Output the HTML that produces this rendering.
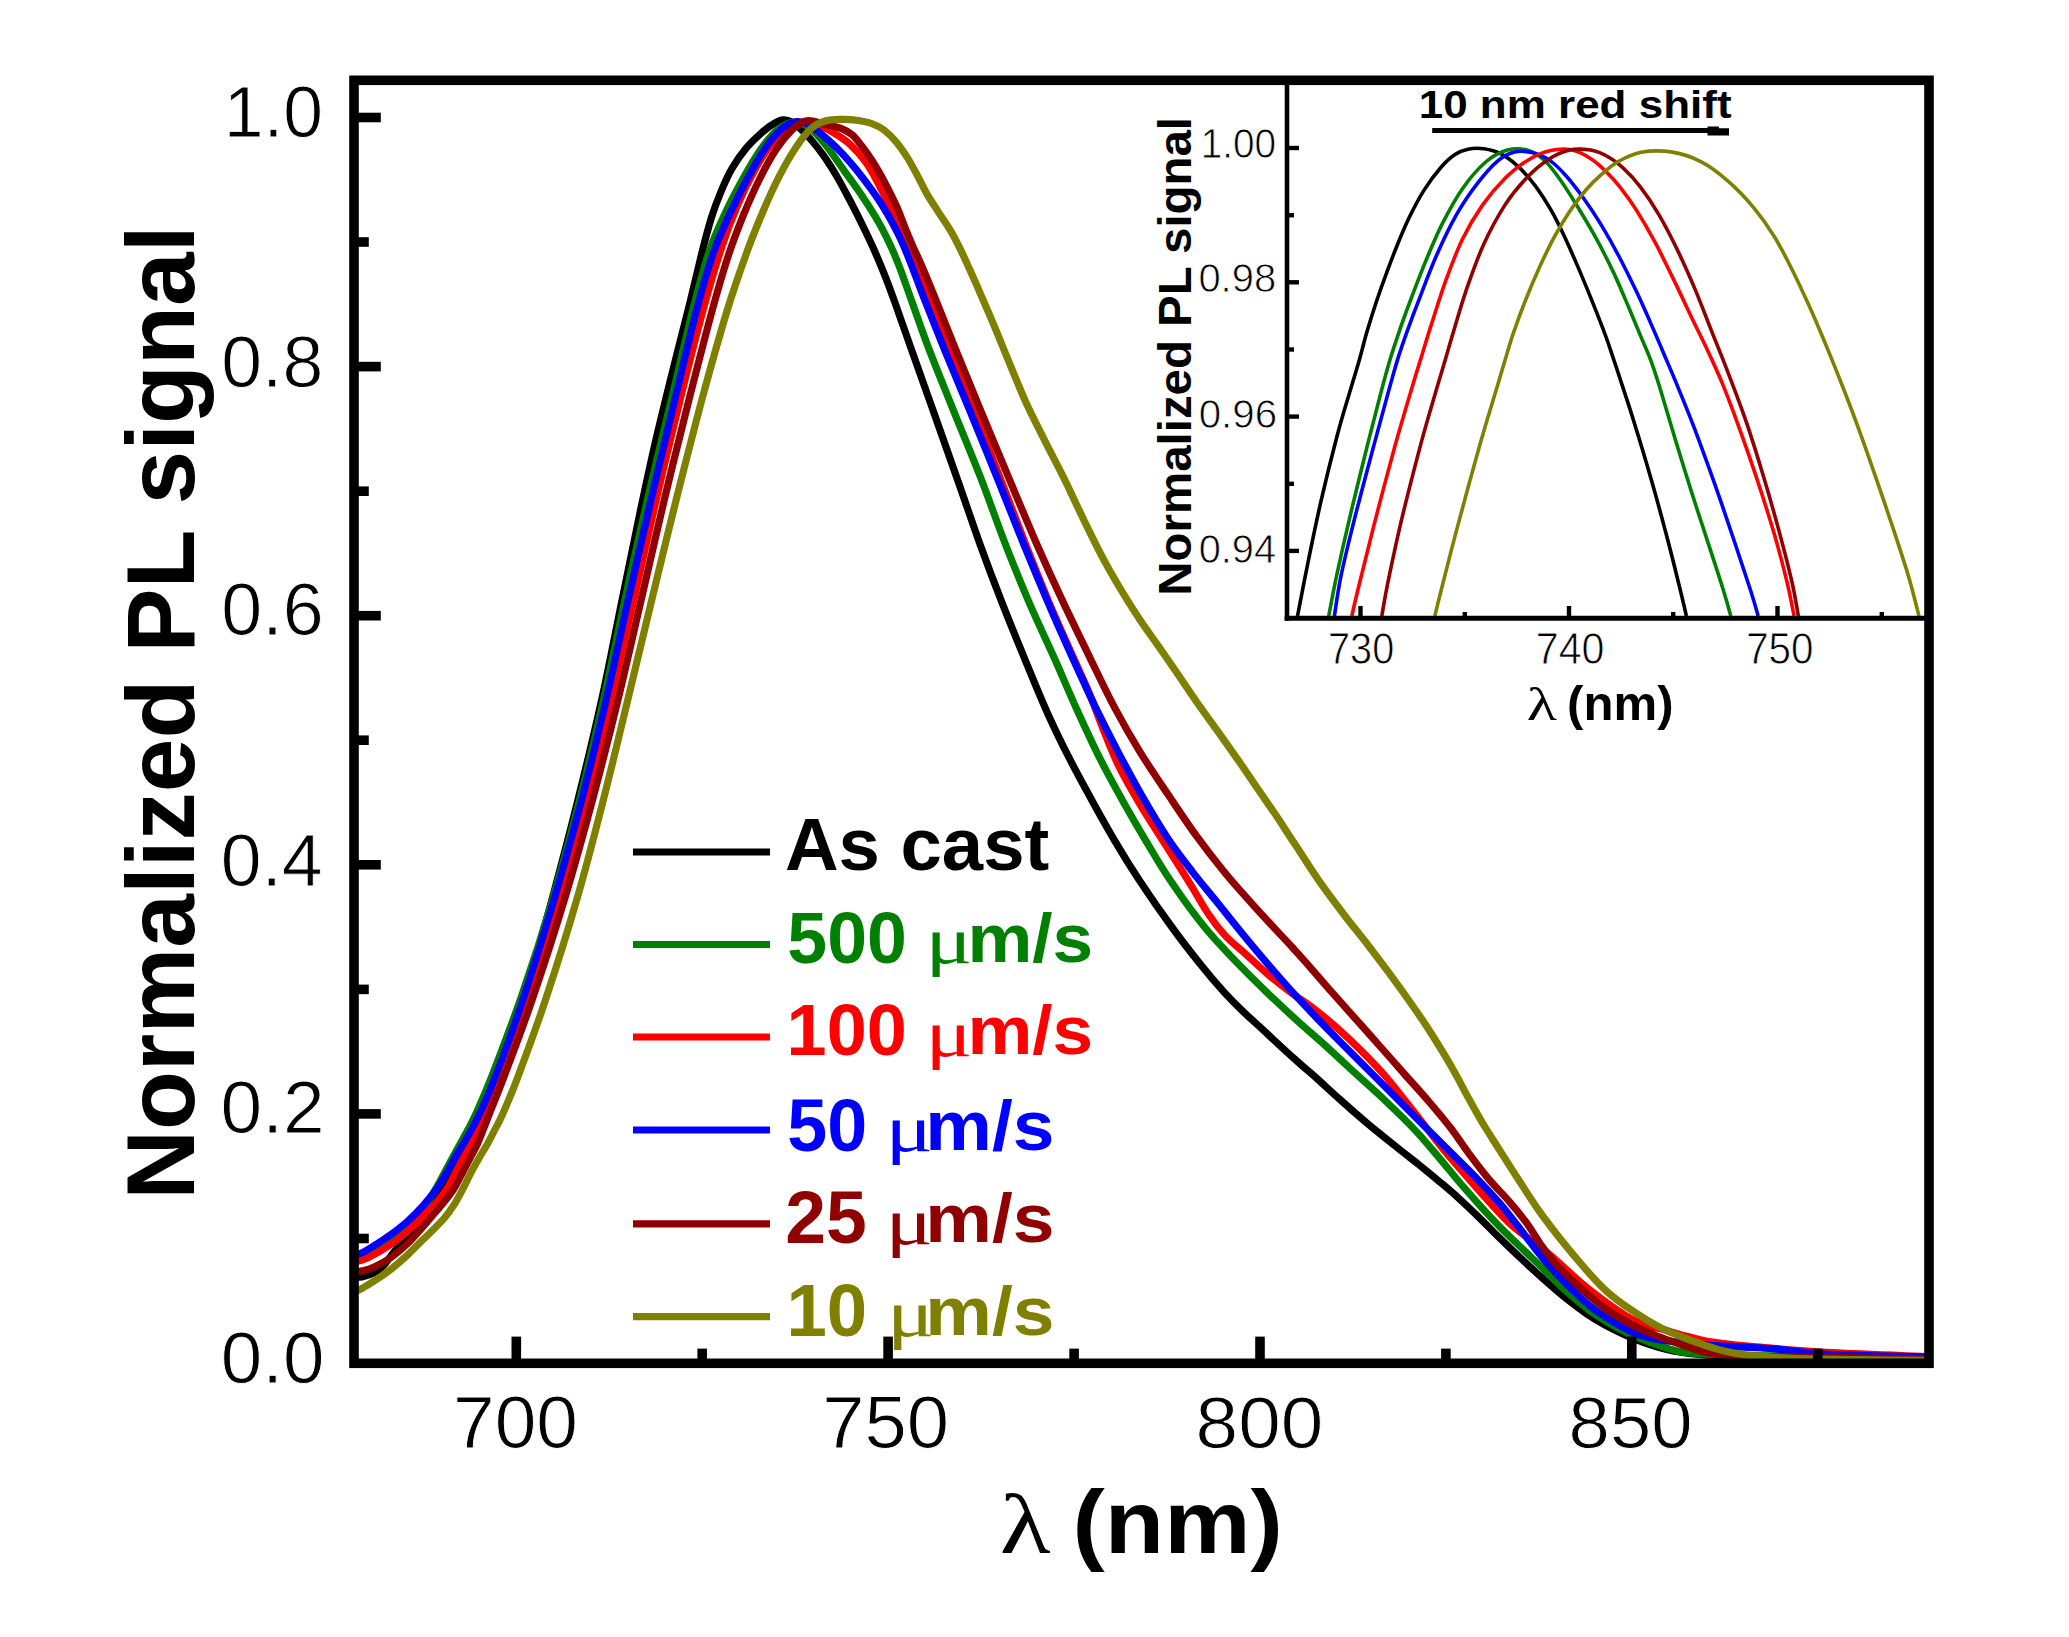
<!DOCTYPE html>
<html><head><meta charset="utf-8"><title>Normalized PL signal</title>
<style>html,body{margin:0;padding:0;background:#fff;}svg{display:block;}</style></head>
<body>
<svg width="2069" height="1637" viewBox="0 0 2069 1637">
<rect x="0" y="0" width="2069" height="1637" fill="#fff"/>
<defs><clipPath id="pc"><rect x="354" y="80" width="1575" height="1283.5"/></clipPath></defs>
<g clip-path="url(#pc)" fill="none" stroke-width="7.2" stroke-linejoin="round" stroke-linecap="butt">
<path d="M354.0,1277.5 C355.3,1277.4 359.2,1277.4 361.9,1276.9 C364.6,1276.4 367.4,1275.6 370.2,1274.5 C373.0,1273.4 375.9,1271.9 378.5,1270.0 C381.1,1268.1 383.4,1265.8 385.5,1263.4 C387.6,1261.0 389.3,1258.1 391.2,1255.5 C393.2,1252.9 395.1,1250.6 397.2,1247.9 C399.4,1245.2 401.6,1242.9 404.2,1239.5 C406.9,1236.2 409.7,1232.2 413.0,1227.9 C416.3,1223.6 420.3,1218.4 424.2,1213.5 C428.2,1208.6 432.7,1203.6 436.5,1198.8 C440.3,1193.9 443.9,1189.0 447.0,1184.2 C450.1,1179.5 452.5,1174.8 455.0,1170.0 C457.5,1165.2 459.8,1160.5 462.2,1155.5 C464.7,1150.5 467.3,1145.8 469.8,1140.0 C472.3,1134.2 474.3,1129.2 477.3,1121.0 C480.3,1112.8 483.3,1103.0 487.7,1090.5 C492.1,1078.0 498.0,1061.8 503.7,1046.2 C509.4,1030.8 516.0,1013.7 521.8,997.5 C527.5,981.3 532.4,967.7 538.0,949.2 C543.6,930.8 548.7,912.0 555.4,886.9 C562.1,861.9 570.5,830.2 578.2,798.9 C586.0,767.5 594.5,732.2 601.9,698.8 C609.2,665.5 615.9,630.1 622.3,598.9 C628.7,567.6 634.8,537.3 640.3,511.1 C645.9,484.9 650.2,464.6 655.5,441.6 C660.8,418.7 666.4,396.1 672.1,373.3 C677.7,350.5 684.4,325.1 689.4,305.0 C694.4,284.8 698.4,266.9 702.0,252.3 C705.7,237.8 708.3,227.7 711.4,217.6 C714.6,207.5 717.5,200.1 720.9,191.9 C724.3,183.8 727.6,176.0 731.9,168.7 C736.1,161.4 741.3,154.0 746.4,147.9 C751.4,141.8 757.5,136.4 762.2,132.2 C766.9,128.1 771.1,125.2 774.7,123.1 C778.3,121.1 780.8,120.1 783.6,119.9 C786.5,119.7 788.9,120.5 791.8,122.0 C794.7,123.5 797.5,126.0 800.8,129.0 C804.0,132.0 807.4,135.5 811.3,140.0 C815.1,144.5 819.5,149.9 823.8,155.9 C828.0,161.9 832.4,169.0 836.6,176.0 C840.8,183.1 844.7,190.6 848.8,198.3 C852.9,206.0 856.9,213.9 861.0,222.2 C865.1,230.5 869.5,239.7 873.3,248.1 C877.1,256.6 880.2,263.8 883.8,272.8 C887.4,281.7 890.2,289.3 894.8,302.1 C899.4,314.9 905.1,331.5 911.5,349.6 C917.9,367.7 925.6,389.4 933.2,410.8 C940.8,432.3 949.2,456.1 957.0,478.3 C964.9,500.5 972.5,523.4 980.0,544.2 C987.5,564.9 994.6,583.7 1002.1,602.9 C1009.6,622.1 1017.4,641.1 1024.9,659.3 C1032.4,677.5 1039.5,695.3 1047.0,711.9 C1054.5,728.6 1062.1,744.1 1069.8,759.2 C1077.6,774.4 1085.8,789.1 1093.2,802.7 C1100.7,816.3 1107.0,827.7 1114.8,840.8 C1122.5,853.9 1130.5,866.9 1140.0,881.2 C1149.5,895.6 1161.6,913.1 1171.8,927.0 C1181.9,941.0 1192.3,954.2 1201.0,965.0 C1209.6,975.8 1216.4,983.7 1223.6,991.6 C1230.7,999.4 1237.2,1005.9 1243.7,1012.1 C1250.1,1018.3 1256.0,1023.3 1262.0,1028.8 C1268.0,1034.3 1273.4,1039.7 1279.6,1045.3 C1285.7,1050.9 1292.2,1056.8 1298.6,1062.5 C1305.0,1068.2 1311.1,1073.3 1318.0,1079.5 C1324.9,1085.7 1331.7,1092.1 1340.0,1099.5 C1348.2,1106.9 1358.3,1115.8 1367.7,1123.8 C1377.2,1131.7 1388.0,1140.3 1396.8,1147.3 C1405.5,1154.3 1413.1,1160.1 1420.2,1165.8 C1427.2,1171.5 1432.7,1176.0 1439.2,1181.4 C1445.6,1186.8 1452.2,1192.3 1458.8,1198.3 C1465.5,1204.4 1472.3,1210.9 1479.2,1217.6 C1486.1,1224.3 1493.1,1231.7 1500.3,1238.7 C1507.5,1245.7 1515.1,1253.0 1522.3,1259.7 C1529.5,1266.4 1536.3,1272.7 1543.4,1279.0 C1550.5,1285.3 1557.7,1291.7 1564.9,1297.5 C1572.1,1303.2 1579.8,1309.1 1586.5,1313.7 C1593.2,1318.3 1599.0,1321.7 1605.2,1325.2 C1611.5,1328.6 1617.2,1331.4 1624.0,1334.5 C1630.8,1337.5 1638.1,1340.7 1646.0,1343.3 C1653.8,1346.0 1661.0,1348.5 1671.2,1350.5 C1681.5,1352.5 1688.2,1354.0 1707.5,1355.2 C1726.8,1356.5 1750.3,1357.1 1787.2,1357.8 C1824.2,1358.4 1905.4,1358.8 1929.0,1359.0" stroke="#000000"/>
<path d="M354.0,1259.0 C355.5,1258.5 359.6,1257.6 362.8,1256.2 C365.9,1254.9 369.6,1252.8 373.1,1250.8 C376.7,1248.7 380.4,1246.5 384.1,1244.0 C387.8,1241.5 391.5,1239.0 395.6,1235.8 C399.6,1232.5 404.3,1228.8 408.5,1224.8 C412.8,1220.7 417.3,1215.9 420.9,1211.5 C424.5,1207.1 427.3,1202.6 429.9,1198.5 C432.6,1194.4 434.5,1190.9 436.8,1187.0 C439.0,1183.1 441.0,1179.5 443.2,1175.2 C445.5,1171.0 447.9,1166.4 450.5,1161.5 C453.1,1156.6 456.1,1151.3 459.0,1146.0 C461.9,1140.7 465.0,1135.3 467.9,1129.8 C470.8,1124.2 472.4,1121.9 476.4,1112.8 C480.5,1103.6 484.8,1094.2 492.3,1075.0 C499.8,1055.8 511.1,1026.6 521.2,997.2 C531.3,967.9 543.0,931.7 552.8,898.7 C562.5,865.6 571.4,832.2 579.9,798.9 C588.4,765.5 596.2,732.2 603.8,698.8 C611.3,665.5 617.8,632.2 625.1,598.9 C632.4,565.5 639.8,532.4 647.6,498.9 C655.4,465.3 664.3,429.3 671.9,397.7 C679.4,366.2 686.7,333.9 692.9,309.7 C699.0,285.4 703.6,268.3 708.9,252.4 C714.2,236.4 719.1,226.2 724.8,214.0 C730.4,201.8 736.7,190.0 742.7,179.2 C748.7,168.5 754.9,157.7 760.7,149.4 C766.6,141.0 772.4,133.8 778.1,129.2 C783.7,124.8 789.2,122.6 794.5,122.4 C799.8,122.1 804.7,124.1 809.9,127.8 C815.0,131.6 820.0,137.9 825.7,145.0 C831.4,152.1 837.9,161.8 844.1,170.6 C850.3,179.3 857.3,188.7 863.1,197.5 C869.0,206.3 874.6,215.1 879.3,223.5 C884.0,231.8 887.9,239.9 891.4,247.6 C895.0,255.2 897.1,260.8 900.5,269.6 C903.8,278.5 906.8,287.5 911.5,300.5 C916.2,313.6 921.8,330.2 928.6,348.1 C935.4,365.9 943.8,386.3 952.4,407.8 C961.0,429.2 971.5,454.1 980.3,476.8 C989.1,499.5 997.2,523.1 1005.4,544.2 C1013.6,565.2 1021.2,584.0 1029.3,602.9 C1037.4,621.8 1046.3,640.1 1054.2,657.8 C1062.1,675.4 1069.0,692.2 1076.6,708.9 C1084.2,725.5 1091.7,742.1 1099.5,757.7 C1107.4,773.4 1116.1,788.9 1123.8,802.7 C1131.6,816.6 1138.1,827.7 1145.9,840.8 C1153.8,853.9 1160.9,866.7 1170.9,881.2 C1180.8,895.8 1193.5,913.6 1205.3,928.0 C1217.2,942.4 1230.9,956.4 1241.8,967.6 C1252.6,978.9 1261.2,986.9 1270.2,995.6 C1279.3,1004.2 1286.8,1011.3 1296.0,1019.6 C1305.1,1027.9 1315.0,1036.3 1325.0,1045.2 C1334.9,1054.2 1345.3,1064.0 1355.5,1073.4 C1365.7,1082.8 1376.2,1092.1 1386.1,1101.5 C1396.0,1110.9 1406.0,1120.5 1414.8,1129.9 C1423.7,1139.3 1431.5,1148.9 1439.2,1157.8 C1446.8,1166.8 1453.5,1175.3 1460.5,1183.5 C1467.5,1191.6 1474.3,1199.3 1481.1,1206.8 C1487.9,1214.3 1494.4,1221.2 1501.2,1228.2 C1508.1,1235.2 1515.1,1241.8 1522.3,1248.7 C1529.5,1255.7 1536.9,1262.6 1544.3,1269.8 C1551.7,1277.0 1559.2,1284.9 1566.7,1291.7 C1574.2,1298.4 1581.9,1305.0 1589.2,1310.3 C1596.4,1315.7 1603.7,1320.0 1610.3,1324.0 C1616.9,1327.9 1623.0,1330.9 1628.9,1333.8 C1634.8,1336.6 1639.9,1338.8 1645.8,1341.0 C1651.7,1343.3 1657.6,1345.4 1664.4,1347.3 C1671.2,1349.3 1673.1,1351.4 1686.4,1352.7 C1699.7,1354.1 1717.7,1355.0 1744.0,1355.5 C1770.2,1356.0 1813.1,1355.7 1844.0,1356.0 C1874.8,1356.2 1914.8,1356.8 1929.0,1357.0" stroke="#008000"/>
<path d="M354.0,1262.0 C355.5,1261.7 359.3,1261.3 362.8,1260.0 C366.2,1258.7 370.2,1256.7 374.8,1254.1 C379.5,1251.4 385.3,1248.1 390.8,1244.2 C396.3,1240.4 402.4,1235.5 407.8,1230.9 C413.2,1226.2 418.5,1220.9 423.2,1216.2 C428.0,1211.5 432.5,1207.2 436.5,1202.6 C440.4,1198.0 443.9,1193.4 447.0,1188.7 C450.1,1183.9 452.3,1178.9 454.9,1174.0 C457.5,1169.1 459.9,1164.2 462.5,1159.3 C465.2,1154.4 468.2,1149.6 470.8,1144.7 C473.3,1139.7 475.6,1134.8 477.7,1129.5 C479.8,1124.2 480.2,1122.0 483.5,1113.0 C486.8,1104.0 490.3,1094.7 497.4,1075.5 C504.5,1056.3 515.8,1027.2 526.0,997.7 C536.1,968.3 548.2,932.0 558.2,898.8 C568.3,865.7 577.2,832.2 586.0,798.9 C594.8,765.5 603.0,732.2 611.0,698.8 C619.0,665.5 626.4,632.2 634.0,598.9 C641.5,565.5 648.7,532.2 656.4,498.9 C664.1,465.5 672.6,430.1 680.3,398.9 C688.0,367.6 696.1,336.0 702.8,311.1 C709.6,286.1 715.2,266.9 721.0,249.3 C726.7,231.7 731.7,218.9 737.5,205.4 C743.3,191.9 749.7,179.0 755.8,168.1 C761.9,157.3 768.5,147.3 774.3,140.3 C780.0,133.3 785.3,129.2 790.3,126.2 C795.4,123.2 800.0,122.4 804.6,122.1 C809.2,121.9 813.3,123.1 817.9,124.8 C822.4,126.4 826.8,128.7 832.0,131.8 C837.1,134.9 843.2,138.3 848.8,143.3 C854.4,148.3 860.7,155.2 865.6,162.0 C870.6,168.8 874.8,177.2 878.5,184.0 C882.2,190.8 885.0,197.0 887.8,202.8 C890.6,208.7 892.9,213.4 895.2,219.0 C897.6,224.5 899.4,230.2 901.8,236.0 C904.1,241.8 906.6,248.0 909.2,254.0 C911.9,260.0 914.3,264.2 917.8,272.0 C921.2,279.8 924.7,287.8 930.0,300.8 C935.3,313.7 942.4,331.2 949.8,349.5 C957.1,367.8 965.8,389.3 974.2,410.8 C982.7,432.2 991.7,456.0 1000.2,478.2 C1008.8,500.5 1017.3,523.2 1025.5,544.0 C1033.7,564.8 1041.7,584.7 1049.2,602.8 C1056.8,620.8 1064.6,637.8 1071.1,652.5 C1077.6,667.2 1083.1,678.3 1088.3,690.9 C1093.6,703.4 1097.5,715.1 1102.5,727.6 C1107.6,740.1 1112.5,753.2 1118.7,765.9 C1124.9,778.6 1132.0,790.8 1139.7,803.8 C1147.4,816.8 1156.6,830.7 1164.9,843.9 C1173.2,857.0 1182.2,871.0 1189.5,882.8 C1196.8,894.5 1202.5,905.4 1208.5,914.2 C1214.4,923.0 1219.1,929.0 1225.2,935.6 C1231.4,942.2 1238.0,947.2 1245.1,953.6 C1252.2,960.1 1260.4,967.9 1268.0,974.4 C1275.6,980.9 1283.4,986.9 1290.7,992.3 C1297.9,997.8 1304.0,1001.2 1311.5,1006.9 C1319.0,1012.6 1327.3,1019.3 1335.7,1026.7 C1344.0,1034.0 1353.2,1042.7 1361.6,1051.1 C1370.0,1059.5 1377.5,1067.1 1386.1,1077.0 C1394.7,1087.0 1403.7,1098.9 1413.3,1110.9 C1422.9,1123.0 1434.1,1138.1 1443.4,1149.6 C1452.8,1161.0 1461.7,1170.8 1469.4,1179.5 C1477.0,1188.3 1482.8,1194.8 1489.3,1202.0 C1495.9,1209.2 1502.0,1216.3 1508.7,1222.5 C1515.4,1228.7 1522.7,1234.0 1529.5,1239.3 C1536.2,1244.6 1542.9,1249.1 1549.2,1254.2 C1555.4,1259.3 1560.9,1264.7 1566.8,1270.0 C1572.8,1275.3 1578.9,1281.0 1584.8,1285.8 C1590.6,1290.7 1596.8,1295.4 1602.2,1299.4 C1607.5,1303.4 1612.3,1306.7 1617.0,1309.9 C1621.8,1313.1 1625.8,1316.0 1630.6,1318.5 C1635.4,1321.0 1639.9,1323.0 1645.8,1325.0 C1651.7,1327.0 1658.7,1328.4 1665.7,1330.3 C1672.8,1332.3 1681.0,1334.7 1688.2,1336.6 C1695.4,1338.5 1698.4,1339.9 1708.8,1341.5 C1719.1,1343.1 1729.7,1344.5 1750.4,1346.3 C1771.0,1348.2 1802.8,1351.0 1832.6,1352.7 C1862.3,1354.4 1912.9,1355.9 1929.0,1356.6" stroke="#ff0000"/>
<path d="M354.0,1255.0 C355.5,1254.6 359.3,1254.0 362.8,1252.4 C366.2,1250.8 370.2,1248.3 374.8,1245.3 C379.5,1242.3 385.4,1238.6 390.8,1234.7 C396.2,1230.7 402.1,1226.2 407.5,1221.4 C412.8,1216.5 418.1,1211.1 422.9,1205.8 C427.7,1200.4 432.4,1194.7 436.3,1189.4 C440.1,1184.1 443.0,1179.0 446.0,1174.0 C449.0,1169.0 451.3,1164.2 454.1,1159.3 C456.8,1154.4 459.8,1149.7 462.8,1144.7 C465.7,1139.6 468.7,1134.6 471.7,1129.2 C474.6,1123.8 477.0,1119.4 480.3,1112.4 C483.5,1105.4 486.8,1098.3 491.2,1087.2 C495.6,1076.2 500.7,1063.3 506.8,1046.3 C512.9,1029.3 519.8,1009.9 527.7,985.4 C535.6,960.8 545.2,929.9 554.3,898.8 C563.3,867.8 573.3,832.2 582.0,798.9 C590.7,765.5 598.6,732.2 606.4,698.8 C614.1,665.5 620.9,632.2 628.4,598.9 C635.9,565.5 643.4,532.4 651.2,498.9 C659.1,465.3 667.8,429.1 675.3,397.7 C682.9,366.3 690.2,334.3 696.5,310.4 C702.7,286.4 707.5,270.0 712.9,254.2 C718.3,238.5 723.2,228.4 728.8,216.1 C734.4,203.8 740.5,191.5 746.5,180.3 C752.4,169.2 758.5,157.9 764.4,149.3 C770.3,140.7 776.4,133.5 781.8,128.8 C787.1,124.2 792.2,122.4 796.6,121.6 C800.9,120.9 803.8,122.4 807.8,124.2 C811.7,126.1 815.2,129.1 820.0,133.0 C824.9,136.9 830.8,141.9 836.6,147.8 C842.4,153.6 849.2,161.2 855.0,168.1 C860.7,175.0 866.4,182.6 871.0,188.9 C875.6,195.2 879.0,200.4 882.6,206.0 C886.1,211.6 889.0,216.5 892.2,222.5 C895.4,228.5 898.8,234.9 902.0,242.0 C905.2,249.1 907.8,255.6 911.5,265.1 C915.2,274.6 918.8,284.9 924.3,299.0 C929.8,313.1 936.9,330.9 944.5,349.6 C952.1,368.2 961.0,389.4 969.9,410.8 C978.7,432.3 988.4,456.1 997.4,478.3 C1006.3,500.5 1015.2,523.4 1023.7,544.2 C1032.1,564.9 1040.1,584.0 1048.2,602.9 C1056.3,621.8 1064.6,640.4 1072.5,657.8 C1080.4,675.2 1087.8,691.5 1095.5,707.4 C1103.2,723.2 1110.7,737.9 1118.7,753.1 C1126.8,768.4 1135.4,784.5 1143.7,798.8 C1151.9,813.0 1160.2,826.9 1168.2,839.0 C1176.2,851.0 1183.9,860.8 1191.9,871.1 C1199.9,881.5 1207.7,890.7 1216.1,901.1 C1224.4,911.4 1233.2,922.4 1242.0,933.2 C1250.8,943.9 1260.5,955.5 1268.9,965.3 C1277.3,975.1 1284.7,983.6 1292.5,992.2 C1300.2,1000.7 1307.0,1007.9 1315.5,1016.7 C1323.9,1025.5 1333.8,1035.4 1343.3,1045.0 C1352.8,1054.5 1362.9,1064.6 1372.3,1074.0 C1381.7,1083.4 1390.7,1092.4 1399.8,1101.5 C1408.9,1110.6 1418.2,1119.8 1427.0,1128.7 C1435.9,1137.5 1444.5,1146.1 1452.9,1154.5 C1461.2,1162.8 1469.5,1170.8 1477.3,1178.9 C1485.0,1187.0 1492.6,1195.1 1499.4,1202.9 C1506.1,1210.7 1512.2,1218.8 1517.7,1225.8 C1523.2,1232.9 1527.6,1239.0 1532.4,1245.1 C1537.1,1251.1 1541.1,1256.3 1546.1,1262.1 C1551.2,1267.9 1557.2,1274.5 1562.6,1280.1 C1568.0,1285.7 1573.9,1291.3 1578.7,1295.8 C1583.4,1300.3 1586.8,1303.5 1591.1,1306.9 C1595.4,1310.3 1599.5,1313.2 1604.3,1316.3 C1609.2,1319.5 1614.8,1322.9 1620.4,1326.0 C1626.1,1329.0 1630.6,1332.0 1638.2,1334.5 C1645.8,1337.0 1654.5,1339.1 1666.2,1340.8 C1677.8,1342.6 1694.7,1344.0 1708.2,1345.0 C1721.8,1346.1 1736.3,1346.7 1747.5,1347.3 C1758.6,1347.9 1766.4,1348.2 1774.8,1348.9 C1783.3,1349.6 1789.2,1350.8 1798.0,1351.7 C1806.7,1352.6 1815.0,1353.6 1827.5,1354.3 C1839.9,1355.0 1855.6,1355.3 1872.5,1355.8 C1889.4,1356.3 1919.6,1356.8 1929.0,1357.0" stroke="#0000ff"/>
<path d="M354.0,1272.0 C355.5,1271.8 359.3,1271.7 362.8,1270.8 C366.2,1269.9 370.2,1268.9 374.8,1266.7 C379.5,1264.5 385.5,1261.3 390.8,1257.6 C396.1,1253.9 401.6,1249.1 406.4,1244.7 C411.1,1240.3 415.0,1235.7 419.2,1231.1 C423.4,1226.5 427.3,1221.7 431.3,1217.0 C435.4,1212.3 439.7,1207.5 443.4,1202.8 C447.2,1198.1 450.8,1193.5 453.9,1188.7 C457.0,1183.9 459.3,1178.9 461.8,1174.0 C464.4,1169.1 466.9,1164.2 469.5,1159.3 C472.0,1154.4 474.8,1149.6 477.1,1144.7 C479.4,1139.7 481.2,1134.8 483.3,1129.5 C485.4,1124.2 486.2,1122.0 489.7,1113.0 C493.2,1104.0 497.3,1094.7 504.5,1075.5 C511.7,1056.3 522.9,1027.2 532.9,997.7 C542.9,968.3 554.7,932.0 564.7,898.8 C574.7,865.7 583.9,832.2 592.8,798.9 C601.7,765.5 610.1,732.2 618.2,698.8 C626.3,665.5 633.6,632.2 641.4,598.9 C649.1,565.5 656.6,532.2 664.5,498.9 C672.5,465.5 681.4,429.9 689.2,398.9 C697.1,367.8 705.1,336.5 711.6,312.6 C718.1,288.7 723.1,271.6 728.4,255.4 C733.7,239.1 738.2,228.0 743.4,215.1 C748.7,202.3 754.3,189.6 759.9,178.5 C765.4,167.3 771.4,156.6 776.9,148.3 C782.4,140.0 788.3,133.3 793.0,128.8 C797.8,124.2 802.0,122.1 805.7,121.0 C809.3,119.8 811.5,121.0 814.9,121.6 C818.4,122.3 822.1,123.7 826.4,124.8 C830.6,125.8 836.2,126.5 840.5,128.1 C844.7,129.8 848.4,131.6 851.9,134.6 C855.5,137.6 858.4,141.8 861.8,146.1 C865.2,150.5 868.9,155.7 872.2,160.8 C875.5,165.8 878.4,171.0 881.4,176.3 C884.4,181.7 887.3,187.2 890.1,192.9 C892.9,198.5 895.8,204.4 898.3,210.3 C900.8,216.2 902.9,222.2 905.3,228.3 C907.8,234.4 910.2,240.2 913.0,246.6 C915.8,253.0 918.4,257.9 922.1,266.6 C925.9,275.3 929.9,285.2 935.5,299.0 C941.1,312.8 948.2,330.9 955.7,349.6 C963.3,368.2 971.9,389.4 980.8,410.8 C989.7,432.3 999.6,456.1 1009.0,478.3 C1018.3,500.5 1027.7,523.4 1036.8,544.2 C1045.9,564.9 1054.6,584.0 1063.5,602.9 C1072.4,621.8 1081.5,640.4 1090.0,657.8 C1098.4,675.2 1106.1,691.7 1114.5,707.4 C1122.8,723.0 1130.8,737.0 1139.8,751.6 C1148.8,766.2 1158.9,781.0 1168.4,795.1 C1177.9,809.2 1187.3,823.4 1196.6,836.2 C1205.9,849.0 1215.0,860.7 1224.3,872.0 C1233.6,883.4 1243.9,894.7 1252.3,904.1 C1260.8,913.6 1268.1,921.3 1274.8,928.6 C1281.6,935.9 1286.7,941.1 1292.9,948.0 C1299.1,954.9 1305.9,962.4 1312.3,969.8 C1318.8,977.1 1324.8,984.2 1331.6,991.9 C1338.4,999.6 1345.2,1007.2 1353.1,1016.1 C1361.0,1024.9 1370.3,1035.3 1378.8,1045.0 C1387.4,1054.6 1396.1,1064.6 1404.4,1074.0 C1412.7,1083.4 1421.1,1092.4 1428.8,1101.5 C1436.6,1110.6 1444.2,1119.6 1450.9,1128.3 C1457.6,1137.1 1462.9,1145.5 1469.1,1153.8 C1475.4,1162.2 1481.7,1170.7 1488.4,1178.6 C1495.0,1186.5 1502.6,1193.8 1508.9,1201.1 C1515.2,1208.3 1520.7,1215.0 1526.0,1222.2 C1531.3,1229.3 1535.6,1237.1 1540.6,1244.2 C1545.7,1251.2 1550.7,1258.0 1556.2,1264.3 C1561.7,1270.6 1567.7,1276.2 1573.6,1281.9 C1579.6,1287.5 1585.8,1293.0 1592.0,1298.2 C1598.2,1303.3 1604.4,1308.3 1610.8,1312.6 C1617.2,1317.0 1623.9,1320.8 1630.6,1324.3 C1637.3,1327.8 1644.1,1330.8 1650.9,1333.6 C1657.7,1336.4 1664.6,1338.8 1671.2,1341.2 C1677.8,1343.6 1684.3,1345.8 1690.7,1347.8 C1697.0,1349.8 1699.2,1351.9 1709.2,1353.2 C1719.1,1354.6 1729.8,1355.5 1750.4,1356.2 C1770.9,1356.8 1802.8,1356.8 1832.6,1357.3 C1862.3,1357.8 1912.9,1358.7 1929.0,1359.0" stroke="#900000"/>
<path d="M354.0,1292.0 C355.5,1291.3 359.3,1289.9 362.8,1288.0 C366.2,1286.0 370.2,1283.6 374.8,1280.5 C379.5,1277.5 385.4,1273.6 390.8,1269.4 C396.2,1265.1 402.5,1259.6 407.5,1255.0 C412.5,1250.4 416.8,1245.6 420.9,1241.6 C425.0,1237.5 428.3,1234.6 432.2,1230.7 C436.1,1226.7 440.6,1222.5 444.4,1218.0 C448.1,1213.4 451.9,1208.2 455.0,1203.3 C458.1,1198.4 460.5,1193.6 463.0,1188.7 C465.6,1183.8 467.7,1178.9 470.3,1174.0 C472.8,1169.1 475.6,1164.2 478.4,1159.3 C481.1,1154.4 484.3,1149.5 487.0,1144.7 C489.7,1139.8 492.1,1135.0 494.6,1130.2 C497.1,1125.3 498.2,1124.1 502.0,1115.5 C505.8,1106.9 510.0,1097.9 517.3,1078.4 C524.6,1059.0 535.9,1028.8 545.8,998.9 C555.8,968.9 567.4,932.2 577.0,898.8 C586.7,865.5 595.1,832.2 603.6,798.9 C612.1,765.5 620.0,732.2 628.0,698.8 C636.1,665.5 643.9,632.2 652.0,598.9 C660.1,565.5 668.1,532.2 676.4,498.9 C684.8,465.5 693.8,429.9 702.1,398.9 C710.5,367.8 719.2,336.8 726.5,312.6 C733.9,288.4 740.2,270.7 746.3,253.8 C752.3,237.0 757.4,224.7 763.0,211.5 C768.6,198.3 774.3,185.8 780.0,174.9 C785.6,163.9 791.6,153.7 796.9,145.9 C802.2,138.1 806.9,132.2 811.8,128.0 C816.6,123.8 820.7,122.2 825.8,120.8 C830.9,119.3 836.9,119.5 842.4,119.4 C847.8,119.4 853.6,119.8 858.5,120.5 C863.4,121.2 867.3,121.9 871.5,123.5 C875.7,125.1 879.9,126.9 884.0,130.0 C888.1,133.1 892.4,137.4 896.2,142.0 C900.1,146.6 903.7,151.9 907.2,157.4 C910.7,162.9 913.7,168.7 917.0,174.8 C920.3,180.9 923.4,187.8 927.0,194.1 C930.6,200.3 934.8,206.4 938.6,212.4 C942.5,218.4 946.6,224.0 950.2,230.1 C953.9,236.2 957.1,242.6 960.3,249.1 C963.5,255.6 966.0,261.4 969.5,269.1 C973.0,276.8 976.6,285.0 981.1,295.4 C985.6,305.7 991.3,318.9 996.4,331.2 C1001.5,343.6 1006.9,357.2 1012.0,369.4 C1017.1,381.6 1021.5,392.8 1026.9,404.5 C1032.3,416.3 1038.1,427.3 1044.4,439.8 C1050.7,452.4 1058.1,466.3 1064.8,479.8 C1071.4,493.4 1078.1,508.2 1084.4,521.2 C1090.8,534.3 1096.7,546.4 1102.8,557.9 C1108.9,569.4 1115.0,579.8 1121.1,590.0 C1127.2,600.2 1133.3,609.8 1139.4,619.0 C1145.5,628.2 1151.5,636.2 1157.7,645.1 C1163.9,654.0 1169.9,662.6 1176.5,672.3 C1183.2,682.0 1190.4,693.0 1197.6,703.3 C1204.8,713.6 1212.6,724.1 1219.6,733.9 C1226.5,743.6 1233.0,752.8 1239.4,761.9 C1245.8,771.1 1251.5,779.8 1257.7,788.8 C1263.9,797.8 1269.9,806.2 1276.5,816.0 C1283.0,825.8 1289.8,836.5 1297.2,847.6 C1304.5,858.7 1312.5,871.5 1320.5,882.9 C1328.5,894.3 1337.1,905.6 1345.0,916.0 C1352.9,926.3 1360.8,935.8 1367.9,945.0 C1375.0,954.2 1381.2,962.5 1387.5,970.9 C1393.7,979.3 1399.4,987.1 1405.4,995.5 C1411.4,1004.0 1417.6,1012.8 1423.5,1021.6 C1429.4,1030.5 1435.4,1039.9 1440.7,1048.7 C1446.1,1057.4 1451.1,1066.1 1455.7,1074.3 C1460.3,1082.4 1463.7,1089.6 1468.2,1097.6 C1472.6,1105.7 1476.9,1113.5 1482.2,1122.5 C1487.6,1131.4 1494.2,1141.5 1500.4,1151.3 C1506.6,1161.1 1512.9,1171.2 1519.4,1181.1 C1525.9,1191.1 1532.0,1200.9 1539.2,1211.1 C1546.5,1221.3 1555.2,1232.5 1563.0,1242.3 C1570.9,1252.1 1579.7,1262.4 1586.4,1270.1 C1593.2,1277.8 1598.4,1283.5 1603.5,1288.4 C1608.6,1293.4 1612.4,1296.3 1617.0,1299.9 C1621.7,1303.5 1626.3,1306.7 1631.4,1310.1 C1636.5,1313.5 1641.9,1317.1 1647.5,1320.4 C1653.1,1323.7 1659.0,1327.1 1665.2,1330.1 C1671.5,1333.0 1678.1,1335.6 1684.7,1338.2 C1691.3,1340.7 1698.3,1343.1 1705.0,1345.3 C1711.7,1347.5 1717.4,1349.6 1725.2,1351.3 C1732.9,1353.1 1739.8,1354.6 1751.3,1355.7 C1762.8,1356.9 1776.8,1357.7 1794.2,1358.3 C1811.7,1359.0 1833.3,1359.3 1855.8,1359.6 C1878.2,1360.0 1916.8,1360.3 1929.0,1360.4" stroke="#808000"/>
</g>
<rect x="354" y="80.3" width="1575" height="1283" fill="none" stroke="#000" stroke-width="9.6"/>
<line x1="358" y1="1238.5" x2="368.8" y2="1238.5" stroke="#000" stroke-width="9.6"/>
<line x1="358" y1="1113.9" x2="380.8" y2="1113.9" stroke="#000" stroke-width="9.6"/>
<line x1="358" y1="989.4" x2="368.8" y2="989.4" stroke="#000" stroke-width="9.6"/>
<line x1="358" y1="864.8" x2="380.8" y2="864.8" stroke="#000" stroke-width="9.6"/>
<line x1="358" y1="740.2" x2="368.8" y2="740.2" stroke="#000" stroke-width="9.6"/>
<line x1="358" y1="615.7" x2="380.8" y2="615.7" stroke="#000" stroke-width="9.6"/>
<line x1="358" y1="491.2" x2="368.8" y2="491.2" stroke="#000" stroke-width="9.6"/>
<line x1="358" y1="366.6" x2="380.8" y2="366.6" stroke="#000" stroke-width="9.6"/>
<line x1="358" y1="242.0" x2="368.8" y2="242.0" stroke="#000" stroke-width="9.6"/>
<line x1="358" y1="117.5" x2="380.8" y2="117.5" stroke="#000" stroke-width="9.6"/>
<line x1="516.3" y1="1359" x2="516.3" y2="1336.6" stroke="#000" stroke-width="9.6"/>
<line x1="702.2" y1="1359" x2="702.2" y2="1348.6" stroke="#000" stroke-width="9.6"/>
<line x1="888.1" y1="1359" x2="888.1" y2="1336.6" stroke="#000" stroke-width="9.6"/>
<line x1="1074.1" y1="1359" x2="1074.1" y2="1348.6" stroke="#000" stroke-width="9.6"/>
<line x1="1260.0" y1="1359" x2="1260.0" y2="1336.6" stroke="#000" stroke-width="9.6"/>
<line x1="1445.9" y1="1359" x2="1445.9" y2="1348.6" stroke="#000" stroke-width="9.6"/>
<line x1="1631.8" y1="1359" x2="1631.8" y2="1336.6" stroke="#000" stroke-width="9.6"/>
<line x1="1817.8" y1="1359" x2="1817.8" y2="1348.6" stroke="#000" stroke-width="9.6"/>
<text x="223.74" y="137.40" textLength="99.33" lengthAdjust="spacingAndGlyphs" style="font-family:'Liberation Sans',Arial,sans-serif;font-size:72.00px" fill="#000" stroke="#fff" stroke-width="0.9">1.0</text>
<text x="221.25" y="387.30" textLength="101.90" lengthAdjust="spacingAndGlyphs" style="font-family:'Liberation Sans',Arial,sans-serif;font-size:72.42px" fill="#000" stroke="#fff" stroke-width="0.9">0.8</text>
<text x="221.34" y="635.30" textLength="102.22" lengthAdjust="spacingAndGlyphs" style="font-family:'Liberation Sans',Arial,sans-serif;font-size:73.55px" fill="#000" stroke="#fff" stroke-width="0.9">0.6</text>
<text x="220.65" y="886.00" textLength="101.88" lengthAdjust="spacingAndGlyphs" style="font-family:'Liberation Sans',Arial,sans-serif;font-size:73.98px" fill="#000" stroke="#fff" stroke-width="0.9">0.4</text>
<text x="220.58" y="1133.30" textLength="104.08" lengthAdjust="spacingAndGlyphs" style="font-family:'Liberation Sans',Arial,sans-serif;font-size:73.98px" fill="#000" stroke="#fff" stroke-width="0.9">0.2</text>
<text x="220.79" y="1383.30" textLength="103.61" lengthAdjust="spacingAndGlyphs" style="font-family:'Liberation Sans',Arial,sans-serif;font-size:72.71px" fill="#000" stroke="#fff" stroke-width="0.9">0.0</text>
<text x="453.04" y="1448.30" textLength="124.92" lengthAdjust="spacingAndGlyphs" style="font-family:'Liberation Sans',Arial,sans-serif;font-size:73.69px" fill="#000" stroke="#fff" stroke-width="0.9">700</text>
<text x="822.17" y="1448.30" textLength="126.95" lengthAdjust="spacingAndGlyphs" style="font-family:'Liberation Sans',Arial,sans-serif;font-size:73.69px" fill="#000" stroke="#fff" stroke-width="0.9">750</text>
<text x="1195.61" y="1448.00" textLength="127.73" lengthAdjust="spacingAndGlyphs" style="font-family:'Liberation Sans',Arial,sans-serif;font-size:72.71px" fill="#000" stroke="#fff" stroke-width="0.9">800</text>
<text x="1568.61" y="1448.00" textLength="123.83" lengthAdjust="spacingAndGlyphs" style="font-family:'Liberation Sans',Arial,sans-serif;font-size:72.71px" fill="#000" stroke="#fff" stroke-width="0.9">850</text>
<text x="999.87" y="1552.70" textLength="50.88" lengthAdjust="spacingAndGlyphs" style="font-family:'Liberation Serif','DejaVu Serif',serif;font-size:85.36px" fill="#000">λ</text>
<text x="1072.54" y="1552.64" textLength="210.25" lengthAdjust="spacingAndGlyphs" style="font-family:'Liberation Sans',Arial,sans-serif;font-weight:bold;font-size:88.11px" fill="#000">(nm)</text>
<text transform="translate(193.50,1199.80) rotate(-90)" x="0" y="0" textLength="974.30" lengthAdjust="spacingAndGlyphs" style="font-family:'Liberation Sans',Arial,sans-serif;font-weight:bold;font-size:95.54px" fill="#000">Normalized PL signal</text>
<text x="784.94" y="869.60" textLength="264.26" lengthAdjust="spacingAndGlyphs" style="font-family:'Liberation Sans',Arial,sans-serif;font-weight:bold;font-size:73.44px" fill="#000000">As cast</text>
<text x="787.31" y="962.60" textLength="119.51" lengthAdjust="spacingAndGlyphs" style="font-family:'Liberation Sans',Arial,sans-serif;font-weight:bold;font-size:73.13px" fill="#008000">500</text>
<text x="786.60" y="1055.30" textLength="120.25" lengthAdjust="spacingAndGlyphs" style="font-family:'Liberation Sans',Arial,sans-serif;font-weight:bold;font-size:73.13px" fill="#ff0000">100</text>
<text x="787.21" y="1150.80" textLength="79.88" lengthAdjust="spacingAndGlyphs" style="font-family:'Liberation Sans',Arial,sans-serif;font-weight:bold;font-size:74.54px" fill="#0000ff">50</text>
<text x="785.34" y="1243.20" textLength="81.59" lengthAdjust="spacingAndGlyphs" style="font-family:'Liberation Sans',Arial,sans-serif;font-weight:bold;font-size:73.41px" fill="#900000">25</text>
<text x="786.47" y="1335.60" textLength="80.65" lengthAdjust="spacingAndGlyphs" style="font-family:'Liberation Sans',Arial,sans-serif;font-weight:bold;font-size:73.27px" fill="#808000">10</text>
<text x="925.56" y="963.05" textLength="47.00" lengthAdjust="spacingAndGlyphs" style="font-family:'Liberation Serif','DejaVu Serif',serif;font-size:66.18px" fill="#008000">μ</text>
<text x="925.56" y="1055.75" textLength="47.00" lengthAdjust="spacingAndGlyphs" style="font-family:'Liberation Serif','DejaVu Serif',serif;font-size:66.18px" fill="#ff0000">μ</text>
<text x="885.50" y="1151.14" textLength="47.38" lengthAdjust="spacingAndGlyphs" style="font-family:'Liberation Serif','DejaVu Serif',serif;font-size:65.74px" fill="#0000ff">μ</text>
<text x="885.50" y="1243.54" textLength="47.38" lengthAdjust="spacingAndGlyphs" style="font-family:'Liberation Serif','DejaVu Serif',serif;font-size:65.74px" fill="#900000">μ</text>
<text x="887.00" y="1335.94" textLength="47.38" lengthAdjust="spacingAndGlyphs" style="font-family:'Liberation Serif','DejaVu Serif',serif;font-size:65.74px" fill="#808000">μ</text>
<text x="967.43" y="961.64" textLength="125.79" lengthAdjust="spacingAndGlyphs" style="font-family:'Liberation Sans',Arial,sans-serif;font-weight:bold;font-size:69.07px" fill="#008000">m/s</text>
<text x="967.43" y="1054.34" textLength="125.79" lengthAdjust="spacingAndGlyphs" style="font-family:'Liberation Sans',Arial,sans-serif;font-weight:bold;font-size:69.07px" fill="#ff0000">m/s</text>
<text x="925.30" y="1149.82" textLength="129.11" lengthAdjust="spacingAndGlyphs" style="font-family:'Liberation Sans',Arial,sans-serif;font-weight:bold;font-size:70.40px" fill="#0000ff">m/s</text>
<text x="925.30" y="1242.24" textLength="129.11" lengthAdjust="spacingAndGlyphs" style="font-family:'Liberation Sans',Arial,sans-serif;font-weight:bold;font-size:69.33px" fill="#900000">m/s</text>
<text x="925.30" y="1334.64" textLength="129.11" lengthAdjust="spacingAndGlyphs" style="font-family:'Liberation Sans',Arial,sans-serif;font-weight:bold;font-size:69.20px" fill="#808000">m/s</text>
<text x="1200.69" y="157.90" textLength="75.41" lengthAdjust="spacingAndGlyphs" style="font-family:'Liberation Sans',Arial,sans-serif;font-size:42.00px" fill="#000" stroke="#fff" stroke-width="0.8">1.00</text>
<text x="1198.40" y="292.10" textLength="77.75" lengthAdjust="spacingAndGlyphs" style="font-family:'Liberation Sans',Arial,sans-serif;font-size:40.86px" fill="#000" stroke="#fff" stroke-width="0.8">0.98</text>
<text x="1198.69" y="427.50" textLength="78.39" lengthAdjust="spacingAndGlyphs" style="font-family:'Liberation Sans',Arial,sans-serif;font-size:41.57px" fill="#000" stroke="#fff" stroke-width="0.8">0.96</text>
<text x="1198.71" y="562.70" textLength="77.34" lengthAdjust="spacingAndGlyphs" style="font-family:'Liberation Sans',Arial,sans-serif;font-size:41.57px" fill="#000" stroke="#fff" stroke-width="0.8">0.94</text>
<text x="1328.07" y="663.50" textLength="66.11" lengthAdjust="spacingAndGlyphs" style="font-family:'Liberation Sans',Arial,sans-serif;font-size:44.22px" fill="#000" stroke="#fff" stroke-width="0.8">730</text>
<text x="1535.79" y="663.50" textLength="68.74" lengthAdjust="spacingAndGlyphs" style="font-family:'Liberation Sans',Arial,sans-serif;font-size:44.22px" fill="#000" stroke="#fff" stroke-width="0.8">740</text>
<text x="1746.13" y="663.50" textLength="67.37" lengthAdjust="spacingAndGlyphs" style="font-family:'Liberation Sans',Arial,sans-serif;font-size:44.22px" fill="#000" stroke="#fff" stroke-width="0.8">750</text>
<text x="1526.82" y="720.30" textLength="30.14" lengthAdjust="spacingAndGlyphs" style="font-family:'Liberation Serif','DejaVu Serif',serif;font-size:47.32px" fill="#000">λ</text>
<text x="1567.09" y="719.82" textLength="106.51" lengthAdjust="spacingAndGlyphs" style="font-family:'Liberation Sans',Arial,sans-serif;font-weight:bold;font-size:47.35px" fill="#000">(nm)</text>
<text x="1418.70" y="117.80" textLength="312.87" lengthAdjust="spacingAndGlyphs" style="font-family:'Liberation Sans',Arial,sans-serif;font-weight:bold;font-size:39.20px" fill="#000">10 nm red shift</text>
<text transform="translate(1191.18,595.66) rotate(-90)" x="0" y="0" textLength="478.70" lengthAdjust="spacingAndGlyphs" style="font-family:'Liberation Sans',Arial,sans-serif;font-weight:bold;font-size:47.15px" fill="#000">Normalized PL signal</text>
<line x1="633" y1="852" x2="770" y2="852" stroke="#000000" stroke-width="7.2"/>
<line x1="633" y1="944.5" x2="770" y2="944.5" stroke="#008000" stroke-width="7.2"/>
<line x1="633" y1="1037" x2="770" y2="1037" stroke="#ff0000" stroke-width="7.2"/>
<line x1="633" y1="1130" x2="770" y2="1130" stroke="#0000ff" stroke-width="7.2"/>
<line x1="633" y1="1223.8" x2="770" y2="1223.8" stroke="#900000" stroke-width="7.2"/>
<line x1="633" y1="1316.7" x2="770" y2="1316.7" stroke="#808000" stroke-width="7.2"/>
<defs><clipPath id="ic"><rect x="1289" y="85" width="636" height="531"/></clipPath></defs>
<g clip-path="url(#ic)" fill="none" stroke-width="3.6" stroke-linejoin="round">
<path d="M1297.5,616.0 C1299.2,607.2 1304.0,582.1 1307.9,563.0 C1311.8,543.8 1316.1,522.3 1321.0,501.1 C1325.9,479.9 1332.2,454.5 1337.2,435.5 C1342.2,416.5 1347.5,399.8 1351.3,387.1 C1355.0,374.4 1357.1,368.1 1359.6,359.1 C1362.1,350.2 1363.8,342.8 1366.5,333.3 C1369.3,323.8 1372.8,312.4 1376.2,302.2 C1379.6,292.1 1383.2,282.0 1386.8,272.4 C1390.3,262.9 1393.6,254.1 1397.3,245.0 C1401.0,235.8 1404.8,226.6 1409.2,217.5 C1413.7,208.4 1418.7,198.7 1423.9,190.4 C1429.1,182.2 1435.3,173.9 1440.4,168.0 C1445.5,162.0 1450.0,157.8 1454.6,154.7 C1459.2,151.5 1463.0,150.2 1467.9,149.2 C1472.8,148.2 1478.4,148.0 1483.9,148.7 C1489.4,149.5 1495.2,150.8 1500.9,153.8 C1506.6,156.8 1512.5,161.2 1518.3,166.6 C1524.1,172.0 1530.3,179.1 1535.7,186.3 C1541.1,193.5 1546.1,201.4 1550.8,209.7 C1555.6,217.9 1559.7,226.5 1564.1,235.8 C1568.5,245.1 1572.7,254.8 1577.4,265.6 C1582.0,276.4 1587.4,289.3 1592.0,300.8 C1596.7,312.4 1601.8,325.4 1605.3,335.0 C1608.9,344.6 1610.7,350.6 1613.3,358.3 C1616.0,366.1 1617.5,370.8 1621.0,381.6 C1624.5,392.4 1629.4,406.8 1634.4,423.2 C1639.5,439.6 1645.9,460.7 1651.3,479.7 C1656.8,498.8 1662.5,520.0 1667.1,537.5 C1671.7,554.9 1675.7,571.3 1678.9,584.4 C1682.1,597.4 1685.2,610.7 1686.4,616.0" stroke="#000000"/>
<path d="M1328.7,616.0 C1330.0,609.3 1333.1,592.4 1336.6,575.8 C1340.2,559.1 1344.9,538.0 1350.1,516.1 C1355.3,494.1 1362.4,465.3 1367.7,444.1 C1373.0,423.0 1378.1,403.4 1381.8,389.2 C1385.6,375.1 1387.4,368.5 1390.2,359.1 C1393.0,349.8 1395.2,343.2 1398.6,333.3 C1401.9,323.4 1406.1,311.8 1410.6,300.0 C1415.0,288.2 1420.0,275.1 1425.2,262.4 C1430.5,249.7 1435.9,236.3 1442.2,223.9 C1448.5,211.5 1455.5,198.5 1462.8,188.2 C1470.1,177.8 1478.3,168.4 1485.7,162.0 C1493.1,155.7 1500.4,152.1 1507.3,150.1 C1514.2,148.1 1520.7,148.3 1527.0,150.1 C1533.2,151.9 1539.2,155.5 1544.8,160.7 C1550.5,165.8 1555.5,173.2 1560.9,180.8 C1566.3,188.4 1571.6,197.1 1577.4,206.4 C1583.1,215.8 1589.5,226.2 1595.5,237.2 C1601.5,248.1 1607.9,260.7 1613.5,272.4 C1619.0,284.2 1624.2,296.9 1628.9,307.7 C1633.5,318.6 1637.7,328.8 1641.2,337.4 C1644.8,346.0 1647.4,351.3 1650.4,359.3 C1653.4,367.3 1655.4,373.3 1659.2,385.5 C1663.0,397.8 1667.7,414.4 1673.2,432.6 C1678.7,450.8 1686.0,474.7 1692.4,494.7 C1698.7,514.6 1705.9,536.0 1711.2,552.4 C1716.5,568.8 1721.0,582.3 1724.2,592.9 C1727.5,603.5 1729.7,612.1 1730.8,616.0" stroke="#008000"/>
<path d="M1334.4,616.0 C1335.5,609.3 1337.6,592.4 1341.0,575.8 C1344.5,559.1 1349.7,538.0 1355.2,516.1 C1360.8,494.1 1368.6,465.3 1374.2,444.1 C1379.9,423.0 1385.2,403.4 1389.1,389.2 C1393.1,375.1 1394.8,368.5 1397.7,359.1 C1400.6,349.8 1402.8,343.5 1406.4,333.3 C1410.1,323.1 1414.7,310.7 1419.8,297.7 C1424.8,284.6 1430.6,268.9 1436.7,255.1 C1442.8,241.2 1449.6,226.8 1456.5,214.7 C1463.3,202.7 1471.2,191.5 1478.0,182.7 C1484.8,173.8 1491.3,166.4 1497.2,161.3 C1503.2,156.3 1507.9,153.6 1513.7,152.2 C1519.5,150.8 1525.9,151.2 1532.0,152.6 C1538.2,154.1 1544.7,156.9 1550.4,160.9 C1556.1,164.8 1561.0,170.2 1566.4,176.2 C1571.8,182.3 1577.2,189.4 1582.9,197.3 C1588.6,205.3 1594.6,214.2 1600.6,223.9 C1606.5,233.6 1612.5,244.1 1618.5,255.5 C1624.5,266.9 1630.9,279.9 1636.7,292.1 C1642.5,304.4 1648.6,318.3 1653.3,329.1 C1658.1,340.0 1661.6,348.4 1665.4,357.5 C1669.3,366.5 1671.7,372.0 1676.4,383.4 C1681.1,394.9 1687.1,409.1 1693.6,426.2 C1700.1,443.4 1708.4,466.2 1715.5,486.1 C1722.5,506.1 1730.1,528.5 1735.9,546.0 C1741.8,563.4 1747.0,579.1 1750.7,590.7 C1754.4,602.4 1757.0,611.8 1758.2,616.0" stroke="#0000ff"/>
<path d="M1351.8,616.0 C1352.9,611.1 1355.0,601.7 1358.7,586.5 C1362.4,571.2 1368.1,548.0 1374.1,524.6 C1380.1,501.2 1388.7,468.8 1394.9,446.2 C1401.2,423.7 1407.1,404.1 1411.5,389.2 C1415.9,374.4 1418.0,367.7 1421.4,356.9 C1424.7,346.0 1427.4,336.6 1431.5,324.1 C1435.5,311.6 1440.3,295.7 1445.4,281.6 C1450.6,267.5 1456.2,252.2 1462.3,239.5 C1468.5,226.7 1475.4,215.2 1482.5,205.1 C1489.6,194.9 1497.4,186.0 1504.9,178.5 C1512.5,171.0 1520.2,164.8 1527.9,160.2 C1535.5,155.5 1543.4,152.2 1550.8,150.6 C1558.2,148.9 1565.6,148.6 1572.4,150.1 C1579.2,151.6 1585.8,155.5 1591.6,159.3 C1597.4,163.1 1602.6,168.2 1607.4,173.0 C1612.3,177.8 1615.9,181.9 1620.8,188.1 C1625.7,194.4 1631.0,201.6 1636.7,210.6 C1642.4,219.6 1648.9,230.8 1655.0,242.2 C1661.1,253.6 1667.2,266.4 1673.3,278.9 C1679.4,291.4 1685.8,305.2 1691.6,317.4 C1697.4,329.5 1703.1,340.8 1708.2,351.7 C1713.2,362.7 1717.2,371.0 1722.2,383.1 C1727.2,395.2 1732.3,408.8 1738.0,424.6 C1743.7,440.3 1750.5,459.5 1756.5,477.6 C1762.5,495.7 1768.9,515.7 1774.0,533.1 C1779.1,550.6 1783.7,568.4 1787.1,582.2 C1790.4,596.0 1792.9,610.4 1794.1,616.0" stroke="#ff0000"/>
<path d="M1381.8,616.0 C1382.8,610.7 1384.3,600.3 1387.5,584.3 C1390.8,568.4 1395.9,543.7 1401.4,520.4 C1407.0,497.0 1415.0,466.0 1420.8,444.1 C1426.6,422.3 1432.4,403.4 1436.5,389.2 C1440.6,375.1 1442.6,368.9 1445.5,359.1 C1448.3,349.4 1450.2,342.4 1453.7,331.0 C1457.1,319.6 1461.1,305.1 1466.0,290.8 C1471.0,276.5 1476.9,259.3 1483.4,245.0 C1489.9,230.7 1497.7,216.3 1504.9,205.1 C1512.2,193.8 1519.8,185.1 1527.0,177.6 C1534.1,170.0 1540.9,164.3 1548.1,159.7 C1555.2,155.1 1562.5,151.7 1569.6,150.1 C1576.7,148.5 1584.2,149.0 1590.7,150.1 C1597.1,151.2 1602.9,153.9 1608.3,157.0 C1613.8,160.0 1618.2,163.5 1623.5,168.4 C1628.9,173.4 1634.5,179.1 1640.3,186.8 C1646.2,194.4 1652.6,203.9 1658.7,214.3 C1664.8,224.7 1671.0,236.6 1677.0,249.1 C1683.0,261.5 1689.1,275.2 1694.9,288.9 C1700.7,302.7 1706.1,317.2 1711.8,331.6 C1717.5,345.9 1723.1,359.6 1728.9,374.9 C1734.7,390.1 1740.9,406.1 1746.7,423.2 C1752.5,440.3 1758.3,459.2 1763.8,477.6 C1769.3,495.9 1774.9,515.7 1779.6,533.1 C1784.3,550.6 1788.9,568.4 1792.0,582.2 C1795.1,596.0 1797.3,610.4 1798.4,616.0" stroke="#900000"/>
<path d="M1434.8,616.0 C1436.1,610.7 1438.6,600.3 1442.7,584.3 C1446.7,568.4 1452.9,543.7 1459.2,520.4 C1465.4,497.0 1473.9,466.0 1480.1,444.1 C1486.3,422.3 1492.2,403.4 1496.4,389.2 C1500.6,375.1 1502.6,368.5 1505.4,359.1 C1508.2,349.8 1509.9,343.2 1513.3,333.3 C1516.7,323.4 1521.1,311.3 1525.6,300.0 C1530.1,288.7 1535.5,276.1 1540.3,265.6 C1545.1,255.1 1549.6,245.7 1554.5,236.7 C1559.4,227.7 1564.4,219.3 1569.6,211.5 C1574.8,203.7 1580.6,196.2 1585.9,190.0 C1591.2,183.8 1596.1,179.1 1601.5,174.4 C1607.0,169.6 1611.7,165.2 1618.3,161.5 C1624.9,157.9 1632.5,154.0 1641.2,152.3 C1650.0,150.7 1661.1,150.4 1671.0,151.9 C1681.0,153.4 1691.3,156.7 1700.8,161.6 C1710.3,166.4 1719.5,173.6 1728.3,181.3 C1737.1,188.9 1745.9,198.2 1753.5,207.4 C1761.1,216.6 1767.6,225.8 1774.1,236.3 C1780.6,246.7 1786.3,258.0 1792.4,270.2 C1798.5,282.4 1805.0,296.7 1810.8,309.6 C1816.5,322.4 1822.0,335.6 1826.8,347.1 C1831.6,358.7 1835.1,367.3 1839.7,379.1 C1844.3,390.9 1848.9,402.3 1854.5,417.7 C1860.2,433.0 1867.2,452.6 1873.6,471.2 C1880.1,489.7 1887.4,511.1 1893.3,528.9 C1899.2,546.7 1904.7,563.4 1909.0,577.9 C1913.2,592.4 1917.3,609.6 1919.0,616.0" stroke="#808000"/>
</g>
<line x1="1287" y1="82" x2="1287" y2="620.8" stroke="#000" stroke-width="4.6"/>
<line x1="1284.7" y1="618.3" x2="1926" y2="618.3" stroke="#000" stroke-width="5"/>
<line x1="1289" y1="148.0" x2="1299" y2="148.0" stroke="#000" stroke-width="4.4"/>
<line x1="1289" y1="215.2" x2="1294" y2="215.2" stroke="#000" stroke-width="4.4"/>
<line x1="1289" y1="282.3" x2="1299" y2="282.3" stroke="#000" stroke-width="4.4"/>
<line x1="1289" y1="349.5" x2="1294" y2="349.5" stroke="#000" stroke-width="4.4"/>
<line x1="1289" y1="416.6" x2="1299" y2="416.6" stroke="#000" stroke-width="4.4"/>
<line x1="1289" y1="483.8" x2="1294" y2="483.8" stroke="#000" stroke-width="4.4"/>
<line x1="1289" y1="550.9" x2="1299" y2="550.9" stroke="#000" stroke-width="4.4"/>
<line x1="1360.5" y1="616" x2="1360.5" y2="606" stroke="#000" stroke-width="4.4"/>
<line x1="1464.8" y1="616" x2="1464.8" y2="612" stroke="#000" stroke-width="4.4"/>
<line x1="1569.0" y1="616" x2="1569.0" y2="606" stroke="#000" stroke-width="4.4"/>
<line x1="1673.2" y1="616" x2="1673.2" y2="612" stroke="#000" stroke-width="4.4"/>
<line x1="1777.5" y1="616" x2="1777.5" y2="606" stroke="#000" stroke-width="4.4"/>
<line x1="1881.8" y1="616" x2="1881.8" y2="612" stroke="#000" stroke-width="4.4"/>
<line x1="1432.2" y1="130.5" x2="1712" y2="130.5" stroke="#000" stroke-width="4.8"/>
<path d="M1707.5,126.4 L1719,126.4 L1719,128.3 L1729,128.3 L1729,135.5 L1707.5,135.5 Z" fill="#000"/>
</svg>
</body></html>
